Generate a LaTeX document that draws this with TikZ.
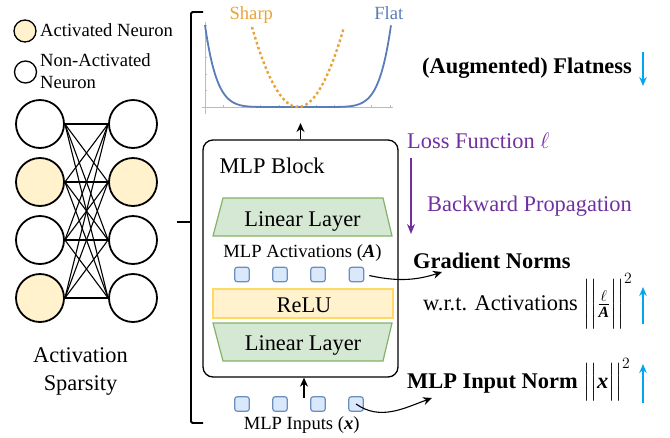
\RequirePackage{fix-cm}
\documentclass[tikz,border=0pt]{standalone}
\usepackage{amsmath}
\usepackage{fontspec}
\setmainfont{Liberation Serif}
\usetikzlibrary{arrows.meta,calc}

\definecolor{actfill}{HTML}{FFF2CC}
\definecolor{greenfill}{HTML}{D5E8D4}
\definecolor{greenline}{HTML}{82B366}
\definecolor{relufill}{HTML}{FFF2CC}
\definecolor{reluline}{HTML}{FFD966}
\definecolor{sqfill}{HTML}{DAE8FC}
\definecolor{sqline}{HTML}{6C8EBF}
\definecolor{flatblue}{HTML}{5A7DB8}
\definecolor{sharporange}{HTML}{E8A33A}
\definecolor{lossviolet}{HTML}{7030A0}
\definecolor{trendblue}{HTML}{00A6EE}
\definecolor{axisgray}{HTML}{BBBBBB}

\newcommand{\smallsize}{\fontsize{18.6}{22}\selectfont}
\newcommand{\bigsize}{\fontsize{22.4}{28}\selectfont}

\tikzset{
  neuron/.style={circle, draw, line width=1.8pt, minimum size=48pt, inner sep=0pt},
  legendneuron/.style={circle, draw, line width=1.3pt, minimum size=22pt, inner sep=0pt},
  synapse/.style={line width=1.1pt},
  unit/.style={draw=sqline, fill=sqfill, line width=1.2pt, rounded corners=2.5pt,
    minimum size=14.5pt, inner sep=0pt},
  layerbox/.style={draw=greenline, fill=greenfill, line width=1.2pt},
  smalltxt/.style={font=\smallsize, inner sep=0pt},
  bigtxt/.style={font=\bigsize, inner sep=0pt},
  arr/.style={line width=1.3pt, -{Stealth[length=9pt,width=8pt]}},
  curvearr/.style={line width=1.1pt, -{Stealth[length=9pt,width=8pt]}},
  backarr/.style={draw=lossviolet, line width=1.6pt, -{Stealth[length=10pt,width=8pt]}},
  trend/.style={draw=trendblue, line width=1.6pt, -{Stealth[length=9pt,width=7.5pt]}},
  axisline/.style={draw=axisgray, line width=0.7pt},
}

\begin{document}
\begin{tikzpicture}[x=1pt, y=-1pt]
\useasboundingbox (0,0) rectangle (670,437);

% ---------- legend ----------
\node[legendneuron, fill=actfill] (legA) at (25,31) {};
\node[smalltxt, anchor=base west] (legAtxt) at (40,36) {Activated Neuron};
\node[legendneuron] (legN) at (25.5,72) {};
\node[smalltxt, anchor=north west, align=left] (legNtxt) at (40,53.3) {Non-Activated\\Neuron};

% ---------- sparse network ----------
\node[neuron] (L1) at (40,124) {};
\node[neuron, fill=actfill] (L2) at (40,182) {};
\node[neuron] (L3) at (40,240) {};
\node[neuron, fill=actfill] (L4) at (40,298) {};
\node[neuron] (R1) at (133,124) {};
\node[neuron, fill=actfill] (R2) at (133,182) {};
\node[neuron] (R3) at (133,240) {};
\node[neuron] (R4) at (133,298) {};
\foreach \i in {1,...,4}
  \foreach \j in {1,...,4}
    \draw[synapse] (L\i.east) -- (R\j.west);

\node[bigtxt, anchor=north, align=center] (sparsity) at (80.5,347.7) {Activation\\Sparsity};

% ---------- brace ----------
\draw[line width=1.8pt, rounded corners=1.5pt]
  (203,12) -- (191,12) -- (191,423) -- (203,423);
\draw[line width=1.8pt, rounded corners=1.5pt] (177,222) -- (191,222);

% ---------- loss landscape ----------
\draw[axisline] (202,107) -- (393,107);
\draw[axisline] (205,22) -- (205,114);
\foreach \k in {0,...,10}
  \draw[axisline] ({205+18.5*\k},107) -- ({205+18.5*\k},105);
\foreach \k in {0,...,5}
  \draw[axisline] (205,{107-16.4*\k}) -- (207,{107-16.4*\k});
\draw[flatblue, line width=1.8pt]
  plot[domain=-1:1, samples=241, smooth] ({298+93*\x},{107-82*((\x)*(\x))^4});
\draw[sharporange, line width=2.4pt, dash pattern=on 2.6pt off 2.6pt]
  plot[domain=-1:1, samples=81, smooth] ({298+46*\x},{107-80*(\x)*(\x)});
\node[smalltxt, anchor=base, text=sharporange] (sharp) at (251.3,19) {Sharp};
\node[smalltxt, anchor=base, text=flatblue] (flat) at (388.8,19) {Flat};
\coordinate (plotbot) at (300.5,123);

% ---------- MLP block ----------
\node[draw, line width=1.3pt, rounded corners=10pt, minimum width=195pt,
  minimum height=237pt, inner sep=0pt] (blk) at (300.5,258.5) {};
\node[bigtxt, anchor=base west] (blktitle) at (219.3,173) {MLP Block};

\draw[layerbox] (213,236) -- (223,198) -- (383,198) -- (392,236) -- cycle;
\node[bigtxt, anchor=base] (linup) at (302.5,226) {Linear Layer};

\node[smalltxt, anchor=base] (acttxt) at (302.5,257.5) {MLP Activations (\textbf{\textit{A}})};
\node[unit] (a1) at (242,274.5) {};
\node[unit] (a2) at (280,274.5) {};
\node[unit] (a3) at (318,274.5) {};
\node[unit] (a4) at (356.5,274.5) {};

\node[draw=reluline, fill=relufill, line width=1.2pt, minimum width=180pt,
  minimum height=29pt, inner sep=0pt] (relu) at (303,303.5) {};
\node[bigtxt, anchor=base] (relutxt) at (304,312) {ReLU};

\draw[layerbox] (213,323) -- (392,323) -- (383,361) -- (223,361) -- cycle;
\node[bigtxt, anchor=base] (lindown) at (303,350) {Linear Layer};

\node[unit] (i1) at (242,404) {};
\node[unit] (i2) at (280,404) {};
\node[unit] (i3) at (318,404) {};
\node[unit] (i4) at (356,404) {};
\node[smalltxt, anchor=base] (intxt) at (301.7,429) {MLP Inputs (\textbf{\textit{x}})};

\draw[arr] (blk.north) -- (plotbot);
\coordinate (inbase) at (304,398);
\draw[arr] (inbase) -- (inbase |- blk.south);

% ---------- right-hand annotations ----------
\node[bigtxt, anchor=base west] (flatness) at (422,73) {\textbf{(Augmented) Flatness}};
\coordinate (flatA) at (643,52);
\coordinate (flatB) at (643,86);
\draw[trend] (flatA) -- (flatB);

\node[bigtxt, anchor=base west, text=lossviolet] (loss) at (407,148) {Loss Function $\ell$};
\coordinate (bpA) at (411,158);
\coordinate (bpB) at (411,234);
\draw[backarr] (bpA) -- (bpB);
\node[bigtxt, anchor=base west, text=lossviolet] (bp) at (427,211) {Backward Propagation};

\node[bigtxt, anchor=base west] (gn) at (413,268) {\textbf{Gradient Norms}};
\coordinate (gtip) at (442,272);
\draw[curvearr, shorten <=5pt] (a4.east) to[out=-12, in=198] (gtip);

\node[bigtxt, anchor=base west] (wrt) at (423,310)
  {w.r.t. Activations $\bigg|\bigg|\frac{\ell}{\textbf{\textit{A}}}\bigg|\bigg|^2$};
\coordinate (gnA) at (643,324);
\coordinate (gnB) at (643,287);
\draw[trend] (gnA) -- (gnB);

\node[bigtxt, anchor=base west] (inorm) at (407,388)
  {\textbf{MLP Input Norm} $\Big|\Big|\textbf{\textit{x}}\Big|\Big|^2$};
\coordinate (itip) at (432,398);
\draw[curvearr] (i4.center) to[out=-35, in=200] (itip);
\coordinate (inA) at (643,403);
\coordinate (inB) at (643,364);
\draw[trend] (inA) -- (inB);

\end{tikzpicture}
\end{document}
